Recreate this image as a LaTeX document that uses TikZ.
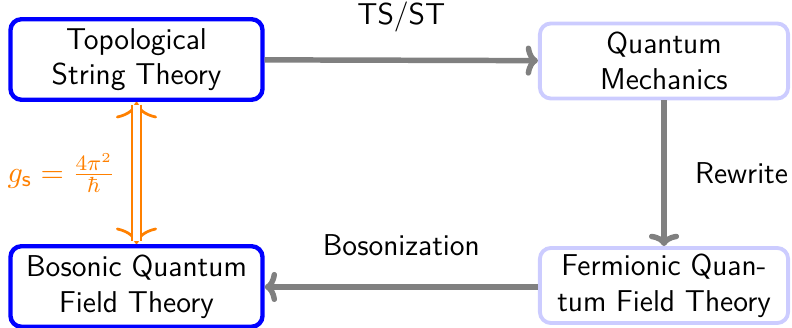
\documentclass[tikz,border=0pt]{standalone}
\usetikzlibrary{arrows.meta}
\begin{document}
\begin{tikzpicture}[x=0.365pt,y=-0.365pt,font=\fontsize{11}{13}\selectfont\sffamily,
  dark/.style ={draw=blue,line width=1.6pt,rounded corners=4pt,fill=white,align=center,
                minimum width=92pt,minimum height=29.4pt,inner sep=1pt},
  light/.style={draw=blue!20,line width=1.4pt,rounded corners=4pt,fill=white,align=center,
                minimum width=90.6pt,minimum height=27.4pt,inner sep=1pt},
  step arrow/.style={draw=gray,line width=2pt,-{To[length=4.5pt,width=11pt]}},
  dual tip/.style={orange,line width=1pt,{To[length=6pt,width=15pt]}-{To[length=6pt,width=15pt]}}]

\useasboundingbox (0,0) rectangle (792,328);

\node[dark] (A) at (136.5,59.5) {Topological\\String Theory};
\node[light] (B) at (664,61) {Quantum\\Mechanics};
\node[light] (C) at (664,285.5) {Fermionic Quan-\\tum Field Theory};
\node[dark] (D) at (136.5,286.5) {Bosonic Quantum\\Field Theory};

\path (A) edge [step arrow] node[above=6pt] {TS/ST} (B);
\path (B) edge [step arrow] node[right=7pt] {Rewrite} (C);
\path (C.west |- 0,287) edge [step arrow] node[above=7pt] {Bosonization} (D.east |- 0,287);

%duality
\draw [dual tip] (A) -- (D);
\draw [orange,thick,double,double distance=2.2pt,shorten <=1pt,shorten >=1pt]
  (A) -- node[left=4pt] {$g_{\mathsf{s}}=\frac{4\pi^2}{\hbar}$} (D);
\end{tikzpicture}
\end{document}
